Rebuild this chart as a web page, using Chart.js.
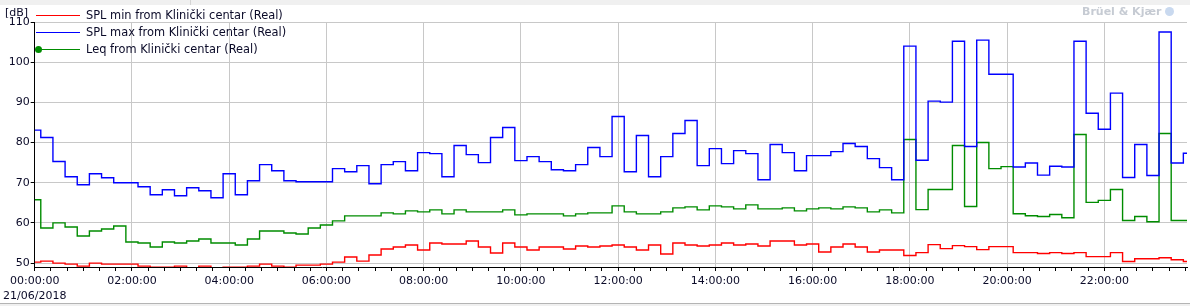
<!DOCTYPE html>
<html>
<head>
    <meta charset="utf-8">
    <title>SPL Klinički centar</title>
    <script src="https://cdn.jsdelivr.net/npm/chart.js"></script>
    <style>
        * {
            font-family: 'DejaVu Sans';
        }
        body {
            margin: 0;
            width: 1190px;
            height: 306px;
            background-color: #f0f0f0;
            overflow: hidden;
            position: relative;
        }
        #panel {
            position: absolute;
            left: 0;
            top: 5px;
            width: 1190px;
            height: 298px;
            background-color: #ffffff;
            border-bottom: 1px solid #b4b4b4;
        }
        #tab-divider {
            position: absolute;
            left: 190px;
            top: 0;
            width: 1px;
            height: 5px;
            background-color: #d4d4d4;
        }
        #chart {
            position: absolute;
            left: 0;
            top: 0;
        }
        #unit {
            position: absolute;
            left: 5px;
            top: 6px;
            font-size: 11px;
            color: #0a0a28;
        }
        #legend {
            position: absolute;
            left: 36px;
            top: 7px;
        }
        .legend-row {
            position: relative;
            height: 17px;
            font-size: 11.4px;
            line-height: 17px;
            color: #0a0a28;
            white-space: nowrap;
        }
        .legend-line {
            position: absolute;
            left: 0;
            top: 8px;
            width: 44px;
            height: 1px;
        }
        .legend-dot {
            position: absolute;
            left: -1px;
            top: 5px;
            width: 7px;
            height: 7px;
            border-radius: 50%;
        }
        .legend-text {
            position: absolute;
            left: 50px;
            top: 0;
        }
        #logo {
            position: absolute;
            left: 1082px;
            top: 5px;
            font-size: 11px;
            font-weight: bold;
            color: #c6cbd3;
            white-space: nowrap;
        }
        #logo-mark {
            display: inline-block;
            width: 9px;
            height: 9px;
            margin-left: 4px;
            border-radius: 50%;
            background-color: #c9d9ef;
            vertical-align: -1px;
        }
    </style>
</head>
<body>
<div id="panel"></div>
<div id="tab-divider"></div>
<canvas id="chart" width="1190" height="306"></canvas>
<div id="unit">[dB]</div>
<div id="legend"></div>
<div id="logo">Brüel &amp; Kjær<span id="logo-mark"></span></div>

<script>
// 15 minute intervals, 21/06/2018
const times = [
    '00:00', '00:15', '00:30', '00:45', '01:00', '01:15', '01:30', '01:45',
    '02:00', '02:15', '02:30', '02:45', '03:00', '03:15', '03:30', '03:45',
    '04:00', '04:15', '04:30', '04:45', '05:00', '05:15', '05:30', '05:45',
    '06:00', '06:15', '06:30', '06:45', '07:00', '07:15', '07:30', '07:45',
    '08:00', '08:15', '08:30', '08:45', '09:00', '09:15', '09:30', '09:45',
    '10:00', '10:15', '10:30', '10:45', '11:00', '11:15', '11:30', '11:45',
    '12:00', '12:15', '12:30', '12:45', '13:00', '13:15', '13:30', '13:45',
    '14:00', '14:15', '14:30', '14:45', '15:00', '15:15', '15:30', '15:45',
    '16:00', '16:15', '16:30', '16:45', '17:00', '17:15', '17:30', '17:45',
    '18:00', '18:15', '18:30', '18:45', '19:00', '19:15', '19:30', '19:45',
    '20:00', '20:15', '20:30', '20:45', '21:00', '21:15', '21:30', '21:45',
    '22:00', '22:15', '22:30', '22:45', '23:00', '23:15', '23:30', '23:45'
];

const splMin = [
    50.25, 50.5, 50, 49.75, 49.25, 50, 49.75, 49.75, 49.75, 49.25, 49, 49, 49.25, 48.8, 49.25, 48.8,
    49, 49, 49.25, 49.75, 49.25, 49, 49.5, 49.5, 49.75, 50.25, 51.5, 50.5, 52, 53.5, 54, 54.5,
    53.25, 55, 54.75, 54.75, 55.5, 54, 52.5, 55, 54, 53.25, 54, 54, 53.5, 54.25, 54, 54.25,
    54.5, 54, 53.25, 54.5, 52.25, 55, 54.5, 54.25, 54.5, 55, 54.5, 54.75, 54.25, 55.5, 55.5, 54.5,
    54.75, 52.75, 54, 54.75, 54, 52.75, 53.25, 53.25, 51.9, 52.6, 54.6, 53.6, 54.35, 54.1, 53.35, 54.1,
    54.1, 52.6, 52.6, 52.4, 52.6, 52.4, 52.6, 51.6, 51.6, 52.6, 50.4, 51.1, 51.1, 51.35, 50.85, 50.4
];

const splMax = [
    83.1, 81.25, 75.3, 71.5, 69.5, 72.25, 71.25, 70, 70, 69, 67, 68.25, 66.75, 68.75, 68, 66.25,
    72.25, 67, 70.5, 74.5, 73, 70.5, 70.25, 70.25, 70.25, 73.5, 72.75, 74.25, 69.75, 74.5, 75.25, 73,
    77.5, 77.25, 71.5, 79.25, 77, 75, 81.25, 83.75, 75.5, 76.5, 75.25, 73.25, 73, 74.5, 78.75, 76.5,
    86.5, 72.75, 81.75, 71.5, 76.5, 82.25, 85.5, 74.25, 78.5, 74.75, 78, 77.25, 70.75, 79.5, 77.5, 73,
    76.75, 76.75, 77.75, 79.75, 79, 76, 73.75, 70.75, 104, 75.6, 90.3, 90.05, 105.2, 79, 105.5, 97,
    97, 73.9, 74.9, 71.9, 74.1, 73.9, 105.2, 87.3, 83.3, 92.3, 71.3, 79.5, 71.8, 107.5, 74.9, 77.35
];

const leq = [
    65.75, 58.75, 60, 59, 56.75, 58, 58.5, 59.25, 55.25, 55, 54, 55.25, 55, 55.5, 56, 55,
    55, 54.5, 56, 58, 58, 57.5, 57.25, 58.75, 59.5, 60.5, 61.75, 61.75, 61.75, 62.5, 62.25, 63,
    62.75, 63.25, 62.25, 63.25, 62.75, 62.75, 62.75, 63.25, 62, 62.25, 62.25, 62.25, 61.75, 62.25, 62.5, 62.5,
    64.25, 62.75, 62.25, 62.25, 62.75, 63.75, 64, 63.25, 64.25, 64, 63.5, 64.5, 63.5, 63.5, 63.75, 63,
    63.5, 63.75, 63.5, 64, 63.75, 62.75, 63.25, 62.5, 80.75, 63.3, 68.3, 68.3, 79.25, 64.1, 80, 73.5,
    74, 62.3, 61.8, 61.6, 62.1, 61.3, 82, 65.1, 65.6, 68.3, 60.6, 61.6, 60.3, 82.25, 60.6, 60.6
];

const seriesNames = [
    'SPL min from Klinički centar (Real)',
    'SPL max from Klinički centar (Real)',
    'Leq from Klinički centar (Real)'
];
const seriesColors = ['#ff0000', '#0000ff', '#008c00'];
const yTicks = [50, 60, 70, 80, 90, 100, 110];
const dateLabel = '21/06/2018';

const textColor = '#0a0a28';
const gridColor = '#c8c8c8';

function toMinutes(t) {
    const parts = t.split(':');
    return Number(parts[0]) * 60 + Number(parts[1]);
}

function pad2(n) {
    return String(n).padStart(2, '0');
}

function toPoints(values) {
    return values.map((v, i) => ({ x: toMinutes(times[i]), y: v }));
}

const seriesValues = [splMin, splMax, leq];

const datasets = seriesValues.map((values, i) => ({
    label: seriesNames[i],
    data: toPoints(values),
    borderColor: seriesColors[i],
    backgroundColor: seriesColors[i],
    borderWidth: 1.4,
    pointRadius: 0,
    stepped: 'middle',
    fill: false,
    clip: 0
}));

// legend drawn over the plot, top left
const legend = document.getElementById('legend');
seriesNames.forEach((name, i) => {
    const row = document.createElement('div');
    row.className = 'legend-row';
    const line = document.createElement('div');
    line.className = 'legend-line';
    line.style.backgroundColor = seriesColors[i];
    row.appendChild(line);
    if (i === 2) {
        const dot = document.createElement('div');
        dot.className = 'legend-dot';
        dot.style.backgroundColor = seriesColors[i];
        row.appendChild(dot);
    }
    const text = document.createElement('span');
    text.className = 'legend-text';
    text.textContent = name;
    row.appendChild(text);
    legend.appendChild(row);
});

const ctx = document.getElementById('chart').getContext('2d');
new Chart(ctx, {
    type: 'line',
    data: { datasets: datasets },
    options: {
        responsive: false,
        animation: false,
        devicePixelRatio: 1,
        layout: {
            padding: { top: 22, right: 3, bottom: 0, left: 0 }
        },
        scales: {
            x: {
                type: 'linear',
                min: 0,
                max: 1422,
                afterFit: s => { s.height = 39; },
                ticks: {
                    stepSize: 20,
                    autoSkip: false,
                    includeBounds: false,
                    maxRotation: 0,
                    padding: 3,
                    color: textColor,
                    font: { family: 'DejaVu Sans', size: 11, lineHeight: 1.35 },
                    callback: v => {
                        if (v % 120 !== 0) return '';
                        const label = pad2(Math.floor(v / 60)) + ':' + pad2(v % 60) + ':00';
                        return v === 0 ? [label, dateLabel] : label;
                    }
                },
                grid: {
                    color: c => (c.tick && c.tick.value % 120 === 0) ? gridColor : 'rgba(0,0,0,0)',
                    tickColor: '#000000',
                    tickLength: 4
                },
                border: { color: '#000000', width: 1 }
            },
            y: {
                type: 'linear',
                min: 49.03,
                max: 110,
                afterFit: s => { s.width = 34; },
                afterBuildTicks: s => { s.ticks = yTicks.map(v => ({ value: v })); },
                ticks: {
                    padding: 1,
                    color: textColor,
                    font: { family: 'DejaVu Sans', size: 11 }
                },
                grid: {
                    color: gridColor,
                    tickColor: '#000000',
                    tickLength: 4
                },
                border: { color: '#000000', width: 1 }
            }
        },
        plugins: {
            legend: { display: false },
            tooltip: { enabled: false }
        }
    }
});
</script>
</body>
</html>
